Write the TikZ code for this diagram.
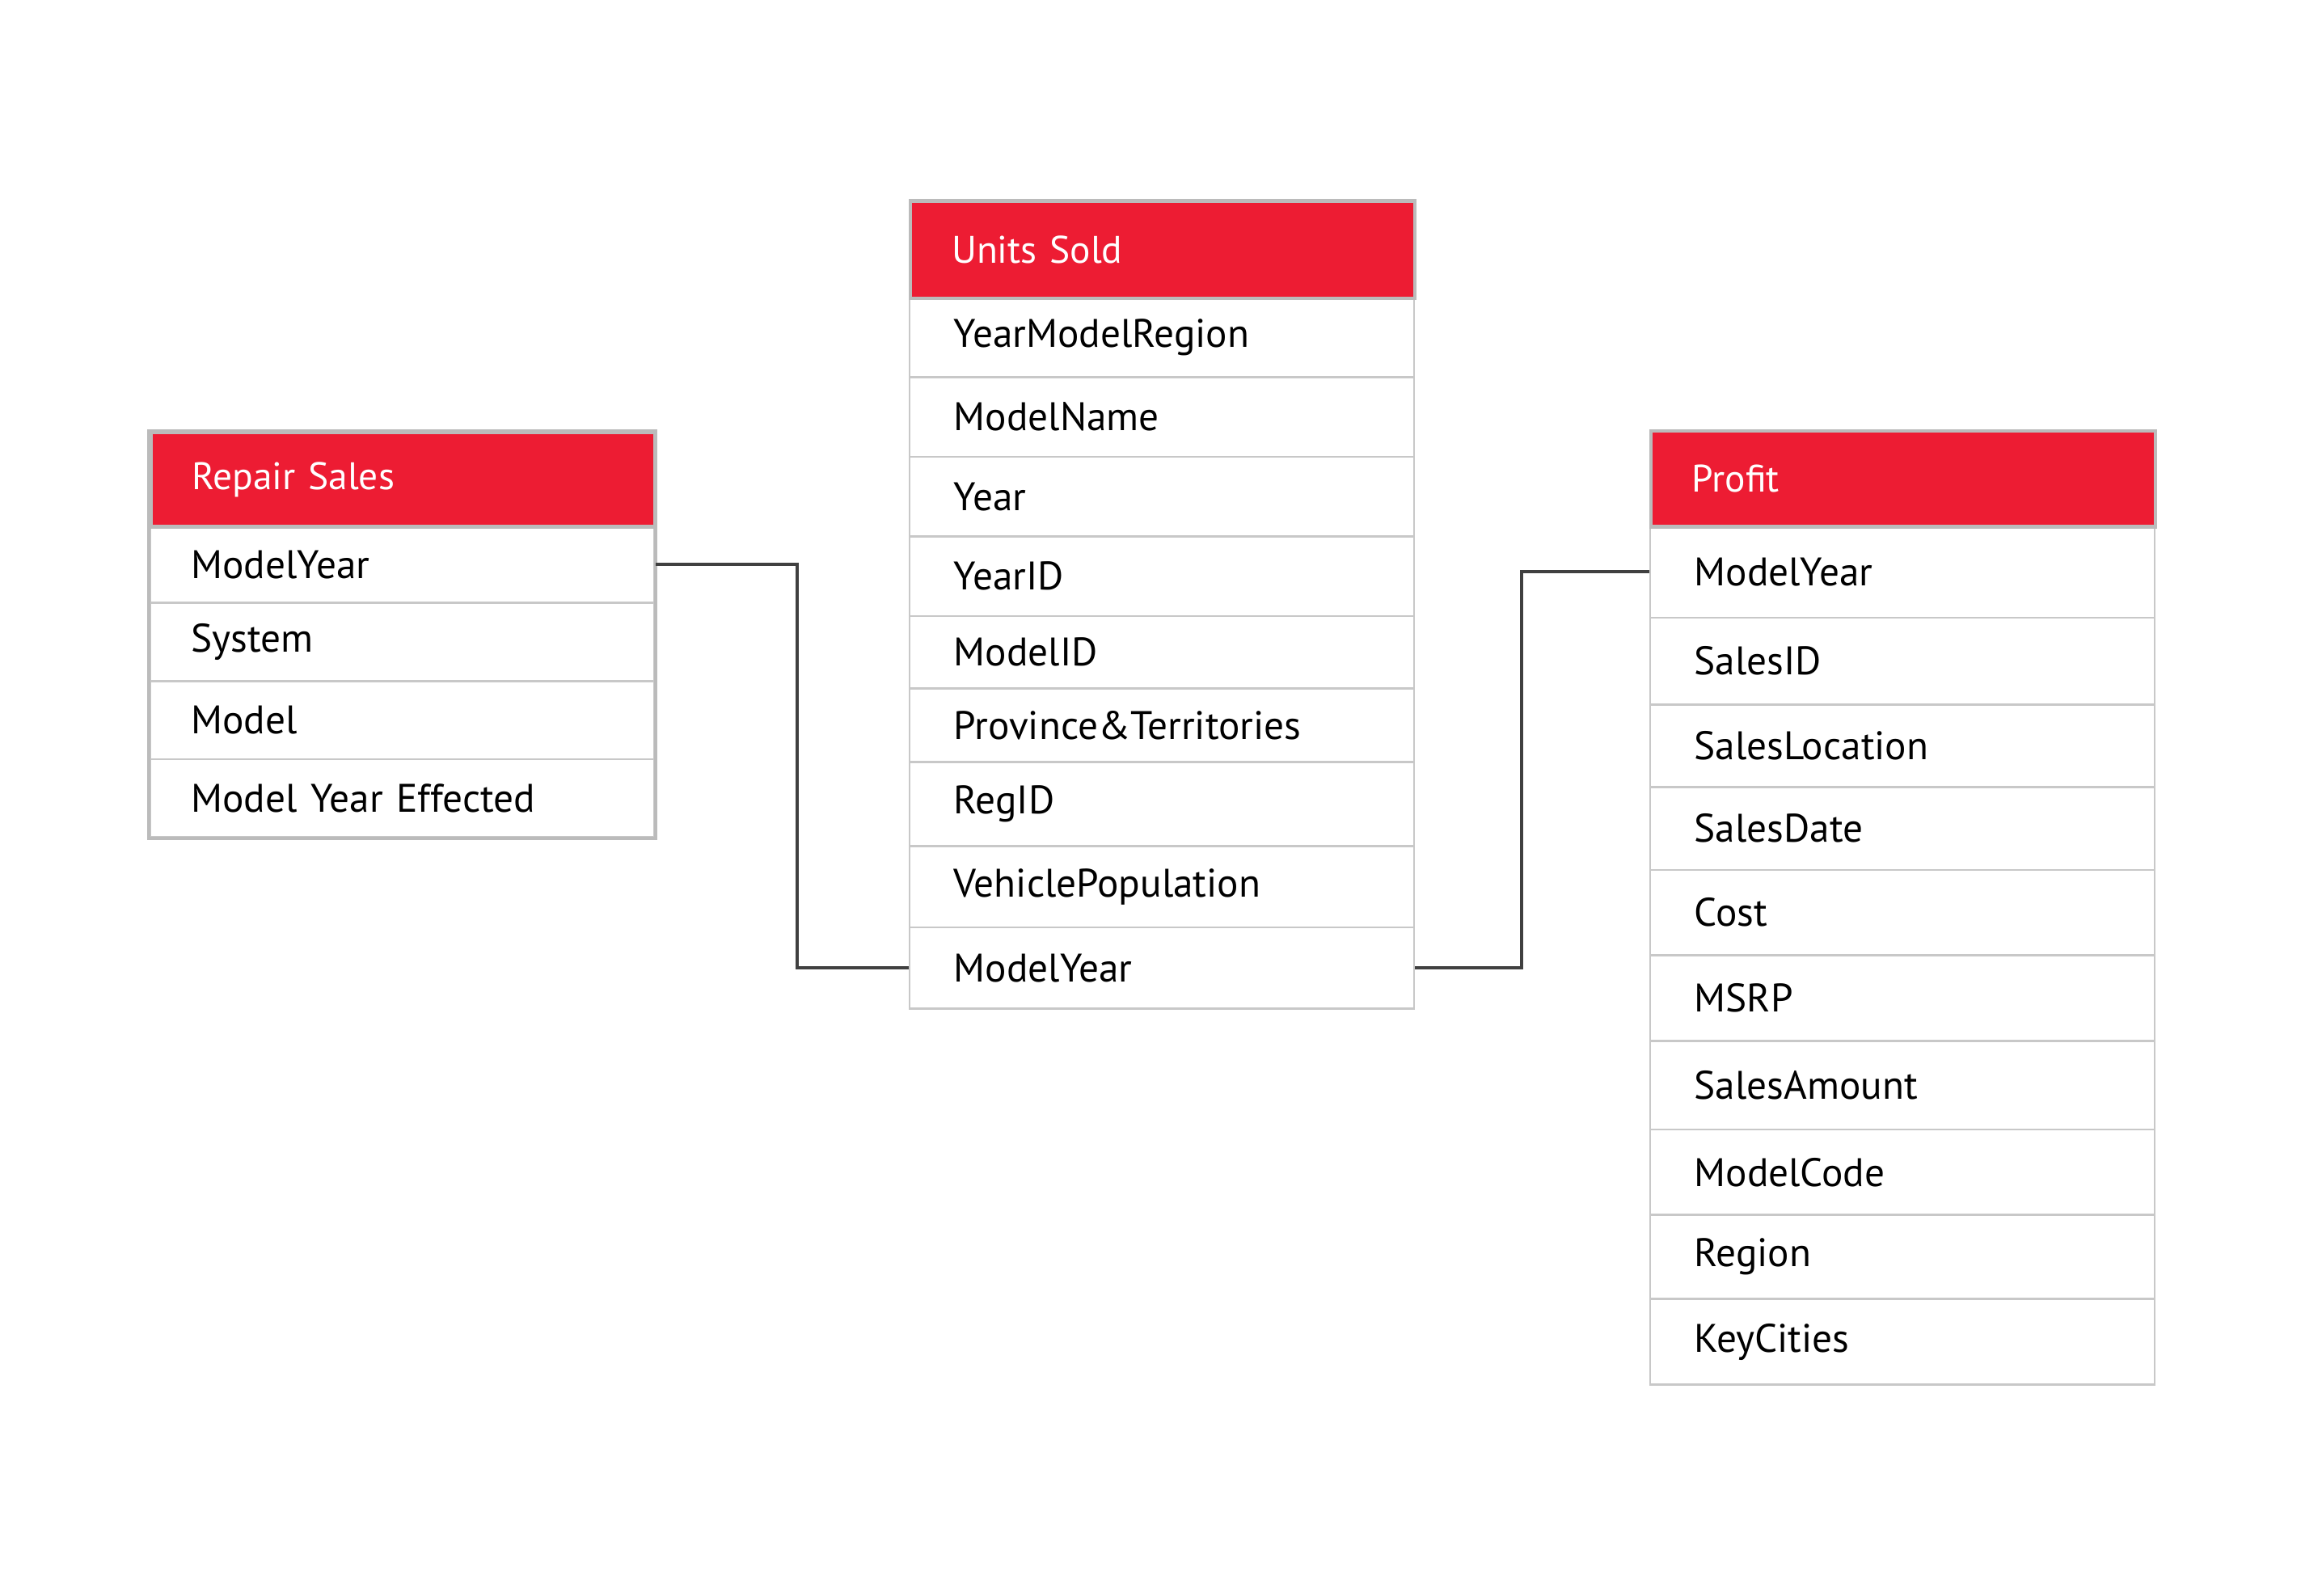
\documentclass[tikz,border=0pt]{standalone}
\usepackage{fontspec}
\setmainfont{PT Sans}
\usepackage{tikz}
\usetikzlibrary{positioning}
\definecolor{tablered}{RGB}{237,28,51}
\definecolor{framegray}{RGB}{187,187,187}
\definecolor{rulegray}{RGB}{200,200,200}
\definecolor{linkgray}{RGB}{64,64,64}
\tikzset{
  tablehead/.style={fill=tablered, draw=framegray, line width=1.2pt, text=white,
    anchor=north west, minimum width=171pt, text width=143pt, inner xsep=14pt,
    align=left, font=\fontsize{13}{15}\selectfont},
  tablerow/.style={draw=rulegray, line width=0.7pt, anchor=north west,
    minimum width=171pt, text width=143pt, inner xsep=14pt, align=left,
    font=\fontsize{13.5}{16}\selectfont},
  tableframe/.style={draw=framegray, line width=1.2pt},
  link/.style={draw=linkgray, line width=1.1pt}
}
\begin{document}
\begin{tikzpicture}[x=0.5pt,y=-0.5pt]
\useasboundingbox (0,0) rectangle (1560,1081.5);

% Repair Sales
\foreach \n/\txt/\t/\b in {1/ModelYear/356/408, 2/System/408/461,
    3/Model/461/514, 4/Model Year Effected/514/567}
  \node[tablerow, minimum height={(\b-\t)*0.5pt}] (rs\n) at (101,\t) {\txt};
\draw[tableframe] (101,292) rectangle (rs4.south east);
\node[tablehead, minimum height=32pt] (rs) at (101,292) {Repair Sales};

% Units Sold
\foreach \n/\txt/\t/\b in {1/YearModelRegion/201/255, 2/ModelName/255/309,
    3/Year/309/363, 4/YearID/363/417, 5/ModelID/417/466,
    6/Province\&Territories/466/516, 7/RegID/516/573,
    8/VehiclePopulation/573/628, 9/ModelYear/628/683}
  \node[tablerow, minimum height={(\b-\t)*0.5pt}, inner xsep=15pt, text width=141pt] (us\n) at (616,\t) {\txt};
\node[tablehead, minimum height=33pt] (us) at (616,135) {Units Sold};

% Profit
\foreach \n/\txt/\t/\b in {1/ModelYear/356/418, 2/SalesID/418/477,
    3/SalesLocation/477/533, 4/SalesDate/533/589, 5/Cost/589/647,
    6/MSRP/647/705, 7/SalesAmount/705/765, 8/ModelCode/765/823,
    9/Region/823/880, 10/KeyCities/880/938}
  \node[tablerow, minimum height={(\b-\t)*0.5pt}, inner xsep=15pt, text width=141pt] (pf\n) at (1118,\t) {\txt};
\node[tablehead, minimum height=32.5pt] (pf) at (1118,291) {Profit};

% links
\draw[link] (rs1.east) -- ++(96,0) |- (us9.west);
\draw[link] (us9.east) -- ++(72,0) |- (pf1.west);
\end{tikzpicture}
\end{document}
